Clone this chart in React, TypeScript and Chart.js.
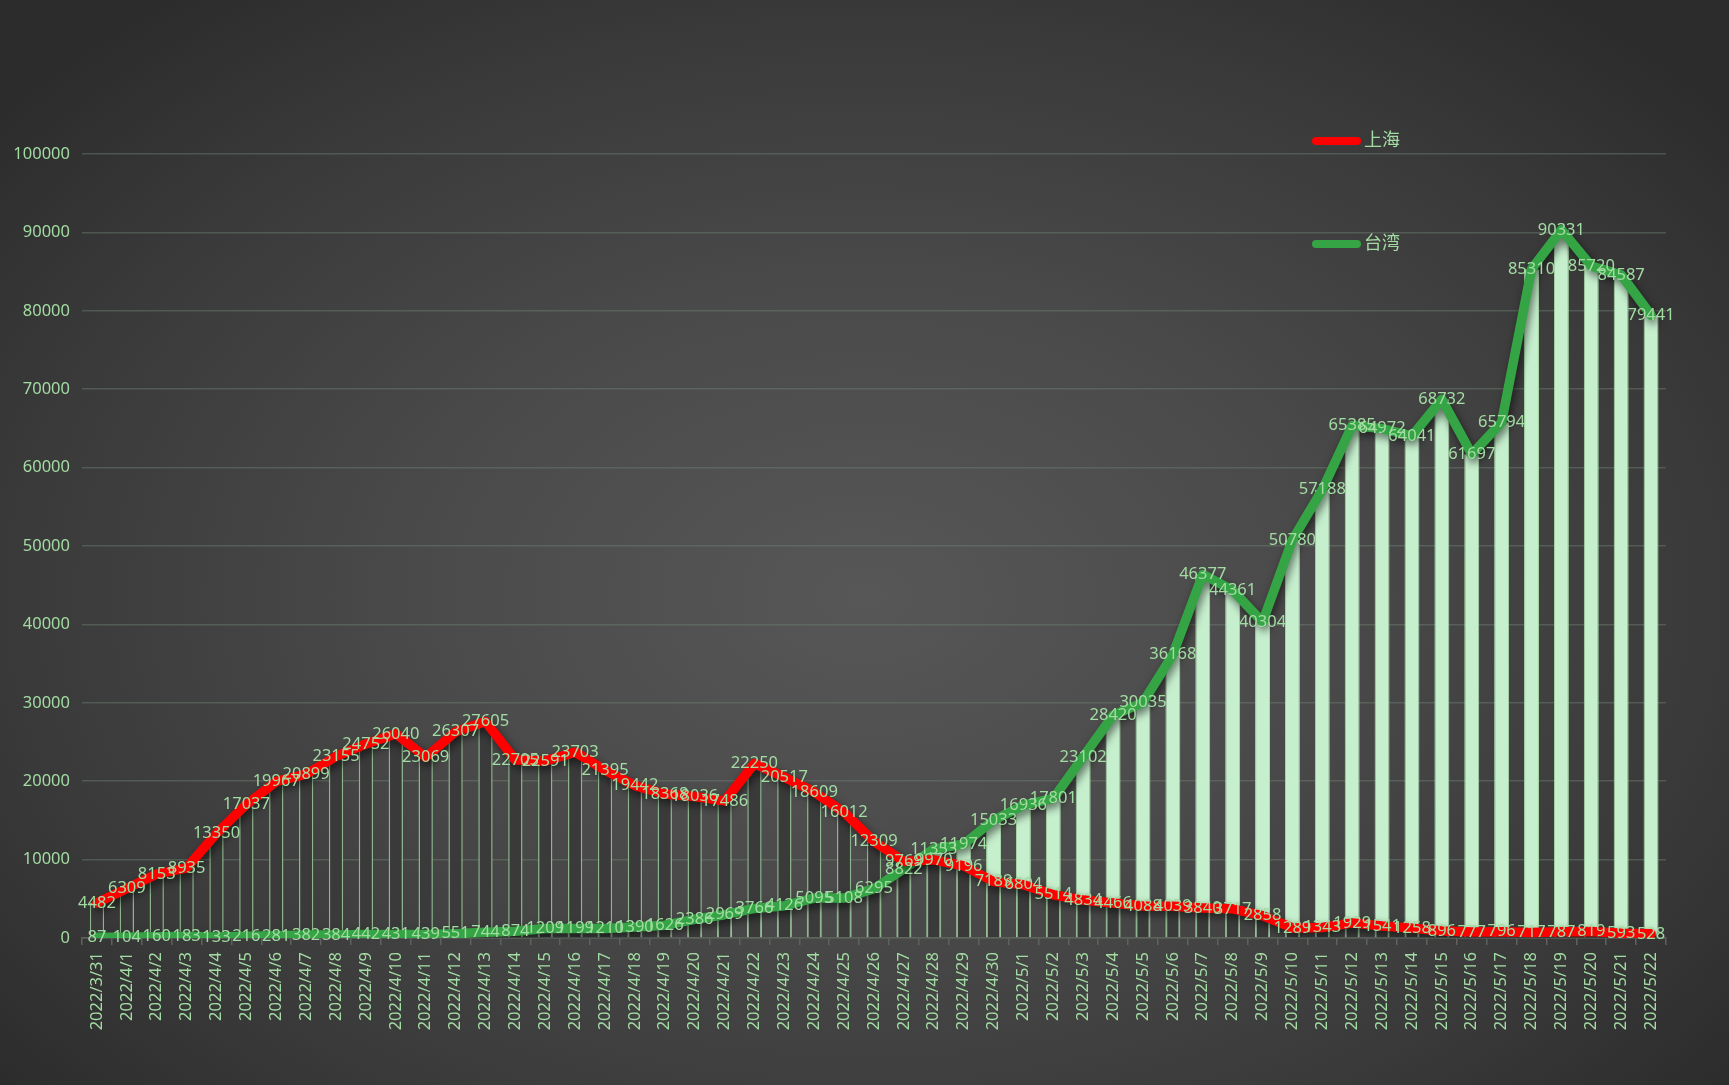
import React, { useEffect, useRef } from "react";
import { Chart, registerables } from "chart.js";

Chart.register(...registerables);

const categories: string[] = [
  "2022/3/31",
  "2022/4/1", "2022/4/2", "2022/4/3", "2022/4/4", "2022/4/5", "2022/4/6", "2022/4/7", "2022/4/8", "2022/4/9", "2022/4/10",
  "2022/4/11", "2022/4/12", "2022/4/13", "2022/4/14", "2022/4/15", "2022/4/16", "2022/4/17", "2022/4/18", "2022/4/19", "2022/4/20",
  "2022/4/21", "2022/4/22", "2022/4/23", "2022/4/24", "2022/4/25", "2022/4/26", "2022/4/27", "2022/4/28", "2022/4/29", "2022/4/30",
  "2022/5/1", "2022/5/2", "2022/5/3", "2022/5/4", "2022/5/5", "2022/5/6", "2022/5/7", "2022/5/8", "2022/5/9", "2022/5/10",
  "2022/5/11", "2022/5/12", "2022/5/13", "2022/5/14", "2022/5/15", "2022/5/16", "2022/5/17", "2022/5/18", "2022/5/19", "2022/5/20",
  "2022/5/21", "2022/5/22",
];

const shanghai: number[] = [
  4482, 6309, 8153, 8935, 13350, 17037, 19967, 20899, 23155, 24752, 26040,
  23069, 26307, 27605, 22705, 22591, 23703, 21395, 19442, 18368, 18036,
  17486, 22250, 20517, 18609, 16012, 12309, 9769, 9970, 9196, 7189,
  6804, 5514, 4834, 4466, 4088, 4039, 3840, 3717, 2858, 1289,
  1343, 1929, 1541, 1258, 896, 777, 796, 717, 787, 819,
  593, 528,
];

const taiwan: number[] = [
  87, 104, 160, 183, 133, 216, 281, 382, 384, 442, 431,
  439, 551, 744, 874, 1209, 1199, 1210, 1390, 1626, 2386,
  2969, 3766, 4126, 5095, 5108, 6295, 8822, 11353, 11974, 15033,
  16936, 17801, 23102, 28420, 30035, 36168, 46377, 44361, 40304, 50780,
  57188, 65385, 64972, 64041, 68732, 61697, 65794, 85310, 90331, 85720,
  84587, 79441,
];

const seriesNames: string[] = ["上海", "台湾"];
const yTicks: number[] = [0, 10000, 20000, 30000, 40000, 50000, 60000, 70000, 80000, 90000, 100000];

const TEXT = "#a3dca3";
const FONT = "'Noto Sans', 'Noto Sans CJK SC', sans-serif";
const RED = "#ff0000";
const GREEN = "#34a444";
const FS = 16.5;

const shadowPlugin = {
  id: "lineShadow",
  beforeDatasetDraw(chart: any, args: any) {
    const ds = chart.data.datasets[args.index];
    if (ds.type === "line") {
      const ctx = chart.ctx;
      ctx.save();
      ctx.shadowColor = "rgba(0,0,0,0.55)";
      ctx.shadowBlur = 8;
      ctx.shadowOffsetX = 2;
      ctx.shadowOffsetY = 4;
    }
  },
  afterDatasetDraw(chart: any, args: any) {
    const ds = chart.data.datasets[args.index];
    if (ds.type === "line") {
      chart.ctx.restore();
    }
  },
};

const labelPlugin = {
  id: "pointLabels",
  afterDatasetsDraw(chart: any) {
    const ctx = chart.ctx;
    ctx.save();
    ctx.font = `${FS}px ${FONT}`;
    ctx.fillStyle = TEXT;
    ctx.textAlign = "center";
    ctx.textBaseline = "middle";
    chart.data.datasets.forEach((ds: any, i: number) => {
      if (ds.type !== "line") return;
      const meta = chart.getDatasetMeta(i);
      meta.data.forEach((pt: any, j: number) => {
        ctx.fillText(String(ds.data[j]), pt.x, pt.y);
      });
    });
    ctx.restore();
  },
};

const legendPlugin = {
  id: "customLegend",
  afterDraw(chart: any) {
    const ctx = chart.ctx;
    const items = [
      { name: seriesNames[0], color: RED, y: 141 },
      { name: seriesNames[1], color: GREEN, y: 244 },
    ];
    ctx.save();
    items.forEach((it) => {
      ctx.strokeStyle = it.color;
      ctx.lineWidth = 8;
      ctx.lineCap = "round";
      ctx.beginPath();
      ctx.moveTo(1316, it.y);
      ctx.lineTo(1357, it.y);
      ctx.stroke();
      ctx.font = `18px ${FONT}`;
      ctx.fillStyle = TEXT;
      ctx.textAlign = "left";
      ctx.textBaseline = "middle";
      ctx.fillText(it.name, 1364, it.y);
    });
    ctx.restore();
  },
};

export default function App() {
  const ref = useRef<HTMLCanvasElement | null>(null);

  useEffect(() => {
    if (!ref.current) return;
    const chart = new Chart(ref.current, {
      data: {
        labels: categories,
        datasets: [
          {
            type: "line",
            label: seriesNames[0],
            data: shanghai,
            borderColor: RED,
            backgroundColor: RED,
            borderWidth: 9.5,
            pointRadius: 0,
            tension: 0,
            borderJoinStyle: "round",
            borderCapStyle: "round",
            order: 0,
          },
          {
            type: "line",
            label: seriesNames[1],
            data: taiwan,
            borderColor: GREEN,
            backgroundColor: GREEN,
            borderWidth: 9.5,
            pointRadius: 0,
            tension: 0,
            borderJoinStyle: "round",
            borderCapStyle: "round",
            order: 1,
          },
          {
            type: "bar",
            label: seriesNames[0] + " bar",
            data: shanghai,
            backgroundColor: "rgba(58,58,58,1)",
            borderColor: "#8db58d",
            borderWidth: 1.5,
            grouped: false,
            categoryPercentage: 1,
            barPercentage: 0.48,
            order: 2,
          },
          {
            type: "bar",
            label: seriesNames[1] + " bar",
            data: taiwan,
            backgroundColor: "#c6efce",
            borderColor: "#a8d8a8",
            borderWidth: 1,
            grouped: false,
            categoryPercentage: 1,
            barPercentage: 0.5,
            order: 3,
          },
        ] as any,
      },
      plugins: [shadowPlugin, labelPlugin, legendPlugin],
      options: {
        responsive: false,
        animation: false,
        devicePixelRatio: 1,
        layout: { padding: { top: 154, right: 63, left: 0, bottom: 0 } },
        plugins: {
          legend: { display: false },
          tooltip: { enabled: false },
        },
        scales: {
          x: {
            type: "category",
            offset: true,
            afterFit: (s: any) => {
              s.height = 147;
            },
            grid: {
              display: true,
              drawOnChartArea: false,
              drawTicks: true,
              tickLength: 7,
              offset: true,
              color: "#5e625e",
              lineWidth: 1.5,
            },
            border: { display: true, color: "#5e625e", width: 1.5 },
            ticks: {
              autoSkip: false,
              maxRotation: 90,
              minRotation: 90,
              padding: 7,
              color: TEXT,
              font: { size: FS, family: FONT },
            },
          },
          y: {
            min: 0,
            max: 100000,
            afterFit: (s: any) => {
              s.width = 82;
            },
            afterBuildTicks: (s: any) => {
              s.ticks = yTicks.map((v) => ({ value: v }));
            },
            grid: {
              color: "rgba(112,128,112,0.45)",
              lineWidth: 1.5,
              drawTicks: false,
            },
            border: { display: false },
            ticks: {
              padding: 12,
              color: TEXT,
              font: { size: FS, family: FONT },
              callback: (v: any) => String(v),
            },
          },
        },
      } as any,
    });
    return () => chart.destroy();
  }, []);

  return (
    <div
      style={{
        position: "fixed",
        left: 0,
        top: 0,
        width: 1729,
        height: 1085,
        background:
          "radial-gradient(ellipse 65% 70% at 50% 55%, #575757 0%, #4a4a4a 40%, #3a3a3a 75%, #2c2c2c 100%)",
      }}
    >
      <canvas ref={ref} width={1729} height={1085} style={{ display: "block" }} />
    </div>
  );
}
